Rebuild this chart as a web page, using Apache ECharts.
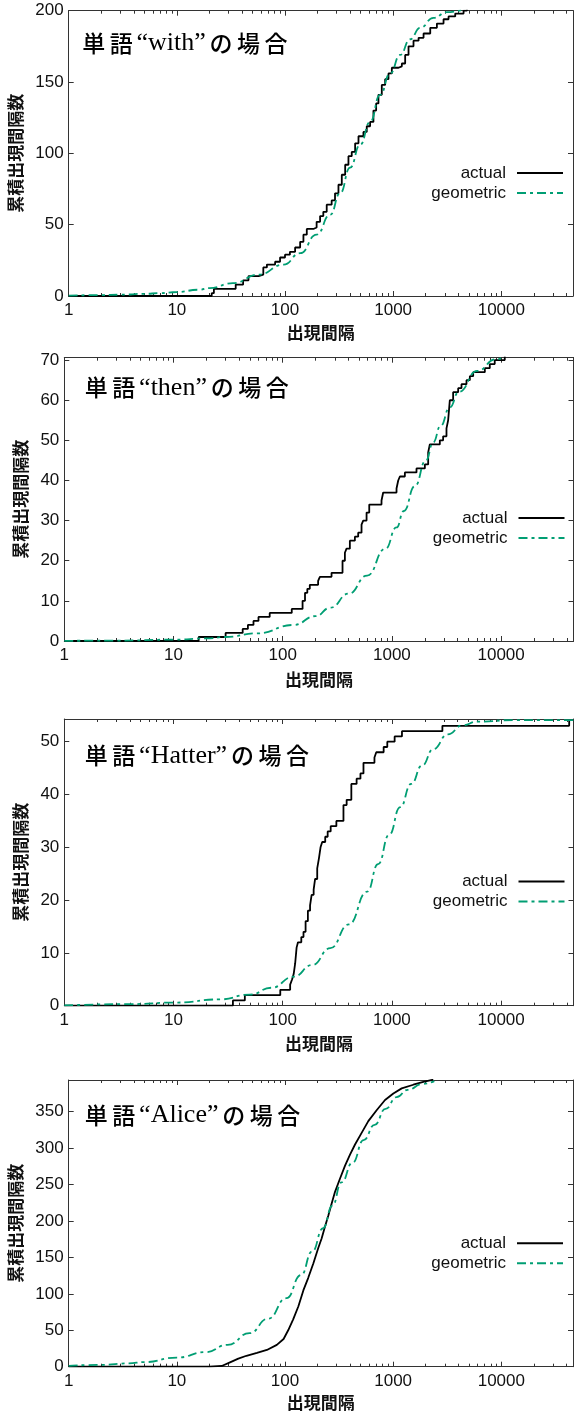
<!DOCTYPE html>
<html><head><meta charset="utf-8">
<script src="https://cdn.jsdelivr.net/npm/echarts@6/dist/echarts.min.js"></script>
<style>html,body{margin:0;padding:0;background:#fff}#c{width:574px;height:1412px}</style>
</head><body><div id="c"></div>
<script>
// ---------- data ----------
const xTickLabels = [1, 10, 100, 1000, 10000];
const X_MIN = 1;
const X_MAX = 46000;
const seriesNames = ['actual', 'geometric'];
const words = ['with', 'then', 'Hatter', 'Alice'];

const withActual = [[1,0],[21,2],[22,5],[35,8],[41,11],[46,14],[57,15],[63,20],[68,22],[81,24],[90,27],[100,29],[111,31],[124,34],[138,38],[148,43],[159,47],[183,48],[196,52],[211,56],[226,59],[243,64],[270,67],[290,72],[312,78],[335,85],[360,92],[386,98],[414,101],[445,107],[478,112],[531,115],[570,119],[612,122],[657,130],[696,135],[731,141],[785,148],[843,152],[905,156],[972,160],[1120,161],[1203,163],[1291,169],[1387,175],[1542,179],[1718,181],[1910,184],[2202,188],[2537,191],[2923,194],[3252,196],[3748,198],[4478,200],[4809,201]];
const withGeometric = [[1,0.3],[2,0.6],[3,0.9],[5,1.5],[7,2],[10,2.8],[16,4.4],[20,5.5],[33,9],[57,15],[97,22],[138,30],[196,43],[262,57],[323,72],[400,90],[495,106],[612,122],[757,141],[938,156],[1160,169],[1435,180],[1775,188],[2360,195],[3140,199],[4500,201]];

const thenActual = [[1,0],[17,1],[30,2],[43,3],[48,4],[54,5],[60,6],[76,7],[121,8],[152,10],[160,12],[168,13],[177,14],[211,15],[219,16],[280,17],[353,20],[371,22],[384,23],[412,25],[458,26],[491,27],[527,29],[546,30],[586,32],[620,34],[803,35],[832,37],[1102,38],[1142,40],[1183,41],[1314,42],[1679,43],[2003,44],[2148,47],[2224,49],[2746,50],[2944,51],[3160,53],[3273,55],[3390,60],[3636,62],[4043,63],[4337,64],[4818,65],[5171,66],[5547,67],[7096,68],[7875,69],[8740,70],[10800,71]];
const thenGeometric = [[1,0.03],[3,0.1],[10,0.33],[20,0.65],[30,1.0],[58,1.9],[126,4.0],[200,6.2],[273,8.3],[403,11.8],[593,16.3],[873,23],[1101,28.3],[1286,32.4],[1622,38.6],[2048,45],[2389,49.5],[2788,53.6],[3385,58.2],[4103,62.1],[6040,67.3],[8913,70.2],[10500,70.6]];

const hatterActual = [[1,0],[35,1],[45,2],[95,3],[117,4],[122,5],[126,6],[130,8],[134,11],[138,12],[148,13],[155,14],[162,16],[170,18],[178,19],[184,21],[192,22],[198,24],[207,26],[215,28],[222,30],[230,31],[245,32],[258,33],[275,34],[310,35],[360,38],[385,39],[425,42],[475,43],[515,44],[549,46],[692,47],[719,48],[840,49],[907,50],[1059,51],[1236,52],[2899,53],[42000,54]];
const hatterGeometric = [[1,0.05],[3.9,0.3],[10.6,0.6],[26.8,1.2],[50,2.1],[79,3.4],[126,5.5],[186,7.7],[273,10.9],[403,15.4],[593,21.6],[748,26.8],[944,32.4],[1191,37.6],[1500,42],[1892,45.5],[2388,48.6],[3252,51.4],[4433,53.1],[6040,53.8],[13100,54.1],[46000,54.1]];

const aliceActual = [[1,0],[20,0],[26,1],[31,6],[37,11],[44,15],[55,19],[68,23],[84,30],[97,38],[107,50],[119,65],[133,83],[148,105],[164,122],[183,142],[203,163],[218,176],[234,192],[252,208],[270,224],[290,240],[322,258],[359,276],[399,291],[444,305],[511,321],[589,337],[703,352],[841,366],[1004,375],[1199,382],[1536,387],[1900,391],[2350,394]];
const aliceGeometric = [[1,1.2],[2,2.5],[3.6,4.6],[5,6.3],[10,12.5],[18.5,20],[29.5,30],[47,46],[70,66],[103,94],[141,126],[178,158],[225,190],[274,221],[333,253],[421,280],[533,311],[674,332],[851,354],[1076,370],[1361,380],[1862,388],[2400,392]];

const yMaxes = [200, 70.6, 54.3, 393.5];
const yIntervals = [50, 10, 10, 50];

// ---------- layout / style ----------
const actualSets = [withActual, thenActual, hatterActual, aliceActual];
const geoSets = [withGeometric, thenGeometric, hatterGeometric, aliceGeometric];
const stepped = [true, true, true, false];
const L = [
  {left:68.7, right:1,   top:10.7, bottom:1116,  tl:80,   tm:43.3,  lt:164.5,  lr:10,  yGap:37.5, xGap:28},
  {left:64.3, right:0.5, top:357.7, bottom:771,  tl:82.6, tm:387.7, lt:509.5,  lr:8.5, yGap:31,   xGap:30},
  {left:64.3, right:0.5, top:719,  bottom:406.3, tl:82.6, tm:755.7, lt:873,    lr:8.5, yGap:30.5, xGap:29},
  {left:68.7, right:1,   top:1080, bottom:45.3,  tl:82.6, tm:1115,  lt:1234.8, lr:10,  yGap:36.4, xGap:27}
];
const BORDER = '#333';
const GREEN = '#009e73';
const minorLog = [];
for (let d = 0; d <= 4; d++) for (let m = 2; m <= 9; m++) { const v = m * Math.pow(10, d); if (v < X_MAX) minorLog.push(Math.log10(v)); }
const LOGMAX = Math.log10(X_MAX);
const numFont = {fontFamily: 'Liberation Sans', fontSize: 17, color: '#111'};
const nameFont = {fontFamily: 'Noto Sans CJK JP', fontWeight: 'bold', fontSize: 17, color: '#111'};

const grid = [], xAxis = [], yAxis = [], series = [], title = [], legend = [];
L.forEach((g, i) => {
  grid.push({left: g.left, right: g.right, top: g.top, bottom: g.bottom, containLabel: false, outerBoundsMode: 'none'});
  const lineBorder = {show: true, onZero: false, lineStyle: {color: BORDER, width: 1}};
  xAxis.push({
    type: 'log', logBase: 10, gridIndex: i, position: 'bottom', min: X_MIN, max: X_MAX,
    axisLine: lineBorder,
    axisTick: {show: true, inside: true, length: 5, lineStyle: {color: BORDER}},
    axisLabel: Object.assign({margin: 6, showMaxLabel: false, formatter: v => {
      const l = Math.log10(v); const r = Math.round(l);
      return (Math.abs(l - r) < 1e-6 && xTickLabels.indexOf(Math.pow(10, r)) >= 0) ? String(Math.pow(10, r)) : '';
    }}, numFont),
    splitLine: {show: false},
    name: '出現間隔', nameLocation: 'middle', nameGap: g.xGap, nameTextStyle: nameFont
  });
  xAxis.push({
    type: 'log', logBase: 10, gridIndex: i, position: 'top', min: X_MIN, max: X_MAX,
    axisLine: lineBorder,
    axisTick: {show: true, inside: true, length: 5, lineStyle: {color: BORDER}},
    axisLabel: {show: false}, splitLine: {show: false}
  });
  ['bottom', 'top'].forEach(pos => xAxis.push({
    type: 'value', gridIndex: i, position: pos, min: 0, max: LOGMAX,
    axisLine: {show: false, onZero: false},
    axisTick: {show: true, inside: true, length: 3, customValues: minorLog, lineStyle: {color: BORDER, width: 1}},
    axisLabel: {show: false}, splitLine: {show: false}
  }));
  const yMax = yMaxes[i], yInt = yIntervals[i];
  yAxis.push({
    type: 'value', gridIndex: i, position: 'left', min: 0, max: yMax, interval: yInt,
    axisLine: lineBorder,
    axisTick: {show: true, inside: true, length: 5, lineStyle: {color: BORDER}},
    axisLabel: Object.assign({margin: 5, showMaxLabel: (yMax % yInt === 0)}, numFont),
    splitLine: {show: false},
    name: '累積出現間隔数', nameLocation: 'middle', nameGap: g.yGap, nameTextStyle: nameFont
  });
  yAxis.push({
    type: 'value', gridIndex: i, position: 'right', min: 0, max: yMax, interval: yInt,
    axisLine: lineBorder,
    axisTick: {show: true, inside: true, length: 5, lineStyle: {color: BORDER}},
    axisLabel: {show: false}, splitLine: {show: false}
  });
  series.push({
    name: seriesNames[0], type: 'line', xAxisIndex: 4 * i, yAxisIndex: 2 * i,
    data: actualSets[i], step: stepped[i] ? 'end' : false, symbol: 'none',
    lineStyle: {color: '#000', width: 1.8}, itemStyle: {color: '#000'}, z: 3
  });
  series.push({
    name: seriesNames[1], type: 'line', xAxisIndex: 4 * i, yAxisIndex: 2 * i,
    data: geoSets[i], smooth: 0.5, smoothMonotone: 'x', symbol: 'none',
    lineStyle: {color: GREEN, width: 1.8, type: [9, 4, 3, 4]}, itemStyle: {color: GREEN}, z: 4
  });
  title.push({
    text: '{a|単}{a|語}{s|“' + words[i] + '”}{a|の}{a|場}{a|合}',
    left: g.tl, top: g.tm - 15, padding: 0,
    textStyle: {fontWeight: 'normal', rich: {
      a: {fontFamily: 'Noto Sans CJK JP', fontWeight: 500, fontSize: 23, padding: [0, 2.25], lineHeight: 30, color: '#000'},
      s: {fontFamily: 'Liberation Serif', fontWeight: 'normal', fontSize: 26, padding: [0, 1.5], lineHeight: 30, color: '#000'}
    }}
  });
  legend.push({
    orient: 'vertical', right: g.lr, top: g.lt, align: 'right', padding: 0,
    itemWidth: 46, itemHeight: 14, itemGap: 3, selectedMode: false,
    data: seriesNames,
    textStyle: {fontFamily: 'Liberation Sans', fontSize: 17, color: '#111', padding: [0, 6, 0, 0]},
    itemStyle: {opacity: 0}
  });
});

const chart = echarts.init(document.getElementById('c'), null, {renderer: 'canvas'});
chart.setOption({animation: false, backgroundColor: '#fff', grid, xAxis, yAxis, series, title, legend});
</script></body></html>
